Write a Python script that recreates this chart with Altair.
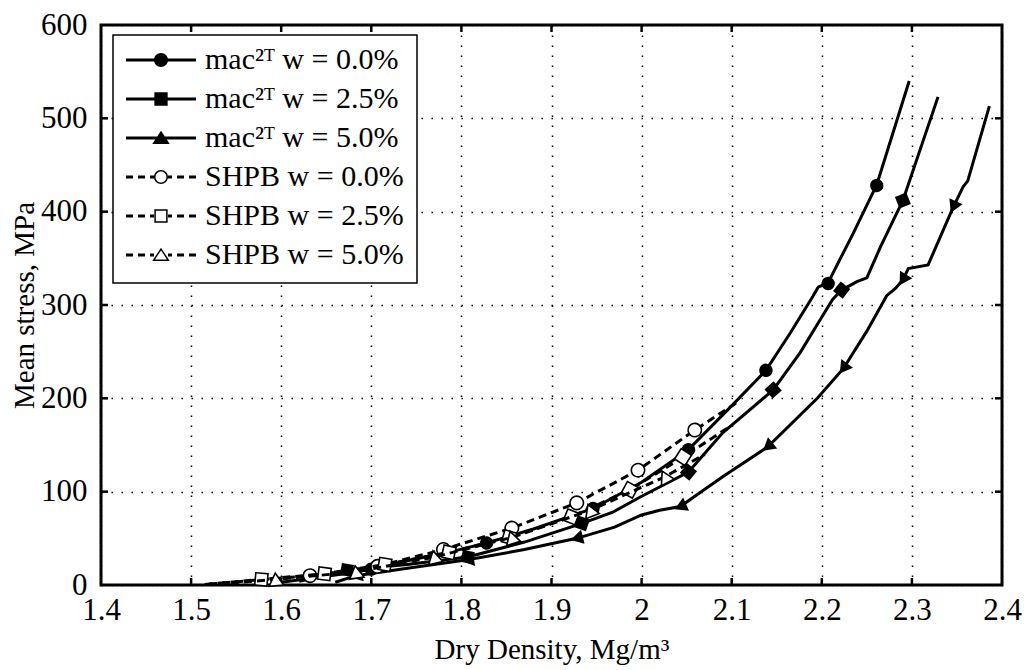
import altair as alt
import numpy as np
import pandas as pd

W, H = 901, 560
XMIN, XMAX, YMIN, YMAX = 1.4, 2.4, 0, 600
FONT = "Liberation Serif"

x_ticks = [1.4, 1.5, 1.6, 1.7, 1.8, 1.9, 2.0, 2.1, 2.2, 2.3, 2.4]
y_ticks = [0, 100, 200, 300, 400, 500, 600]

labels = ["mac²ᵀ w = 0.0%", "mac²ᵀ w = 2.5%", "mac²ᵀ w = 5.0%",
          "SHPB w = 0.0%", "SHPB w = 2.5%", "SHPB w = 5.0%"]

# ---- mac2T w = 0.0 % ----
m0_x = [1.600, 1.640, 1.670, 1.700, 1.740, 1.790, 1.828, 1.880, 1.946, 2.000,
        2.052, 2.098, 2.138, 2.165, 2.190, 2.196, 2.207, 2.235, 2.261, 2.297]
m0_y = [3, 8, 12, 17, 26, 36, 45, 60, 82, 110,
        145, 190, 230, 270, 309, 319, 324, 377, 429, 540]
m0_mx = [1.700, 1.828, 1.946, 2.052, 2.138, 2.207, 2.261]
m0_my = [17, 45, 82, 145, 230, 323, 428]

# ---- mac2T w = 2.5 % ----
m25_x = [1.620, 1.673, 1.740, 1.807, 1.870, 1.934, 1.968, 1.998, 2.052, 2.090,
         2.146, 2.176, 2.198, 2.212, 2.222, 2.239, 2.250, 2.265, 2.290, 2.329]
m25_y = [4, 16, 22, 30, 46, 66, 78, 94, 121, 163,
         209, 249, 284, 306, 316, 325, 329, 362, 412, 523]
m25_mx = [1.673, 1.807, 1.934, 2.052, 2.146, 2.222, 2.290]
m25_my = [16, 30, 66, 121, 209, 316, 412]

# ---- mac2T w = 5.0 % ----
m5_x = [1.660, 1.683, 1.740, 1.807, 1.870, 1.928, 1.970, 2.000, 2.020, 2.043,
        2.065, 2.090, 2.140, 2.195, 2.224, 2.250, 2.272, 2.282, 2.290, 2.296,
        2.318, 2.346, 2.357, 2.362, 2.386]
m5_y = [3, 10, 18, 27, 38, 50, 62, 75, 80, 84,
        99, 116, 148, 200, 232, 272, 310, 318, 327, 339,
        343, 405, 427, 433, 513]
m5_mx = [1.683, 1.807, 1.928, 2.043, 2.140, 2.224, 2.290, 2.346]
m5_my = [10, 27, 50, 84, 148, 232, 327, 405]

# ---- SHPB w = 0.0 % ----
s0_x = [1.520, 1.570, 1.632, 1.707, 1.780, 1.856, 1.928, 1.996, 2.059, 2.105]
s0_y = [1, 5, 10, 20, 38, 61, 88, 123, 166, 195]
s0_mx = [1.632, 1.707, 1.780, 1.856, 1.928, 1.996, 2.059]
s0_my = [10, 20, 38, 61, 88, 123, 166]

# ---- SHPB w = 2.5 % ----
s25_x = [1.515, 1.578, 1.648, 1.715, 1.786, 1.853, 1.922, 1.987, 2.046, 2.095]
s25_y = [0.5, 6, 12, 22, 35, 51, 73, 102, 137, 168]
s25_mx = [1.578, 1.648, 1.715, 1.786, 1.853, 1.922, 1.987, 2.046]
s25_my = [6, 12, 22, 35, 51, 73, 102, 137]

# ---- SHPB w = 5.0 % ----
s5_x = [1.530, 1.594, 1.683, 1.770, 1.856, 1.943, 2.026, 2.070]
s5_y = [1, 6, 14, 30, 51, 80, 116, 140]
s5_mx = [1.594, 1.683, 1.770, 1.856, 1.943, 2.026]
s5_my = [6, 14, 30, 51, 80, 116]


def slope_deg(mx, lx, ly):
    mx = np.asarray(mx, float)
    d = 0.004
    y1 = np.interp(mx - d, lx, ly)
    y2 = np.interp(mx + d, lx, ly)
    return np.degrees(np.arctan2((y2 - y1) * H / (YMAX - YMIN), 2 * d * W / (XMAX - XMIN)))


xscale = alt.Scale(domain=[XMIN, XMAX], nice=False, zero=False)
yscale = alt.Scale(domain=[YMIN, YMAX], nice=False, zero=False)
xaxis = alt.Axis(values=x_ticks, format="~g", labelPadding=10, titlePadding=10,
                 labelFlush=False)
yaxis = alt.Axis(values=y_ticks, labelPadding=14, titlePadding=1, labelFlush=False)
XT = "Dry Density, Mg/m³"
YT = "Mean stress, MPa"


def X(f="x"):
    return alt.X(f"{f}:Q", scale=xscale, axis=xaxis, title=XT)


def Y(f="y"):
    return alt.Y(f"{f}:Q", scale=yscale, axis=yaxis, title=YT)


layers = []

# inward ticks on all four sides
xt = pd.DataFrame({"x": x_ticks[1:-1]})
yt = pd.DataFrame({"y": y_ticks[1:-1]})
layers.append(alt.Chart(xt).mark_rule(color="black", strokeWidth=2.5).encode(
    x=X(), y=alt.value(H), y2=alt.value(H - 7)))
layers.append(alt.Chart(xt).mark_rule(color="black", strokeWidth=2.5).encode(
    x=X(), y=alt.value(0), y2=alt.value(7)))
layers.append(alt.Chart(yt).mark_rule(color="black", strokeWidth=2.5).encode(
    y=Y(), x=alt.value(0), x2=alt.value(7)))
layers.append(alt.Chart(yt).mark_rule(color="black", strokeWidth=2.5).encode(
    y=Y(), x=alt.value(W), x2=alt.value(W - 7)))

series = [
    (m0_x, m0_y, m0_mx, m0_my, "circle", "solid", "fill", 0),
    (m25_x, m25_y, m25_mx, m25_my, "square", "solid", "fill", 1),
    (m5_x, m5_y, m5_mx, m5_my, "triangle-down", "solid", "fill", 2),
    (s0_x, s0_y, s0_mx, s0_my, "circle", "dash", "open", 3),
    (s25_x, s25_y, s25_mx, s25_my, "square", "dash", "open", 4),
    (s5_x, s5_y, s5_mx, s5_my, "triangle-up", "dash", "open", 5),
]
sizes = {"circle": 180, "square": 150, "triangle-down": 210, "triangle-up": 210}

for lx, ly, mx, my, shape, style, fillmode, k in series:
    ldf = pd.DataFrame({"x": lx, "y": ly})
    if style == "solid":
        line = alt.Chart(ldf).mark_line(color="black", strokeWidth=3)
    else:
        line = alt.Chart(ldf).mark_line(color="black", strokeWidth=3, strokeDash=[8, 5])
    layers.append(line.encode(x=X(), y=Y()))
    a = slope_deg(mx, lx, ly)
    if shape == "triangle-down":
        ang = 90 - a
    elif shape == "triangle-up":
        ang = (360 - a) % 360
    else:
        ang = a
    mdf = pd.DataFrame({"x": mx, "y": my, "ang": ang})
    if fillmode == "fill":
        pt = alt.Chart(mdf).mark_point(shape=shape, filled=True, color="black",
                                       size=sizes[shape], opacity=1)
    else:
        pt = alt.Chart(mdf).mark_point(shape=shape, filled=True, fill="white",
                                       stroke="black", strokeWidth=1.6,
                                       size=sizes[shape], opacity=1)
    layers.append(pt.encode(x=X(), y=Y(), angle=alt.Angle("ang:Q", scale=None)))

# legend symbols: line + marker drawn as filled paths (1 unit = 35 px)
solid = "M-1,-0.043H1V0.043H-1Z"
dash = ("M-1,-0.043H-0.8V0.043H-1Z M-0.657,-0.043H-0.457V0.043H-0.657Z "
        "M-0.314,-0.043H-0.2V0.043H-0.314Z M0.2,-0.043H0.314V0.043H0.2Z "
        "M0.457,-0.043H0.657V0.043H0.457Z M0.8,-0.043H1V0.043H0.8Z")
circ = "M-0.2,0A0.2,0.2,0,1,1,0.2,0A0.2,0.2,0,1,1,-0.2,0Z"
circ_in = "M-0.157,0A0.157,0.157,0,1,0,0.157,0A0.157,0.157,0,1,0,-0.157,0Z"
sq = "M-0.19,-0.19H0.19V0.19H-0.19Z"
sq_in = "M-0.147,-0.147V0.147H0.147V-0.147Z"
tri = "M0,-0.21L0.25,0.17L-0.25,0.17Z"
tri_in = "M0,-0.132L-0.17,0.127L0.17,0.127Z"
legend_paths = [
    solid + " " + circ,
    solid + " " + sq,
    solid + " " + tri,
    dash + " " + circ + " " + circ_in,
    dash + " " + sq + " " + sq_in,
    dash + " " + tri + " " + tri_in,
]

leg_df = pd.DataFrame({"x": [s[0][0] for s in series],
                       "y": [s[1][0] for s in series],
                       "label": labels})
legend_layer = alt.Chart(leg_df).mark_point(filled=True, color="black", opacity=0,
                                            size=4900).encode(
    x=X(), y=Y(),
    shape=alt.Shape("label:N",
                    scale=alt.Scale(domain=labels, range=legend_paths),
                    sort=labels,
                    legend=alt.Legend(title=None, orient="none", legendX=12, legendY=10,
                                      symbolSize=4900, symbolOpacity=1,
                                      symbolFillColor="black", symbolStrokeWidth=0,
                                      labelOffset=9, rowPadding=9, padding=13,
                                      clipHeight=24,
                                      fillColor="white", strokeColor="black",
                                      labelLimit=0)))
layers.append(legend_layer)

chart = alt.layer(*layers).properties(
    width=W, height=H,
    autosize=alt.AutoSizeParams(type="none"),
    padding={"left": 101, "top": 25, "right": 22, "bottom": 85},
    background="white",
).configure_view(
    stroke="black", strokeWidth=3
).configure_axis(
    labelFont=FONT, labelFontSize=31, labelColor="black",
    titleFont=FONT, titleFontSize=29, titleFontWeight="normal", titleColor="black",
    domain=False, ticks=False, grid=True, gridColor="black",
    gridDash=[1.5, 8.5], gridWidth=1.5, gridOpacity=1,
).configure_legend(
    labelFont=FONT, labelFontSize=30, labelColor="black",
    strokeWidth=1.5,
)

chart.save("out.html", embed_options={"renderer": "svg", "actions": False})
